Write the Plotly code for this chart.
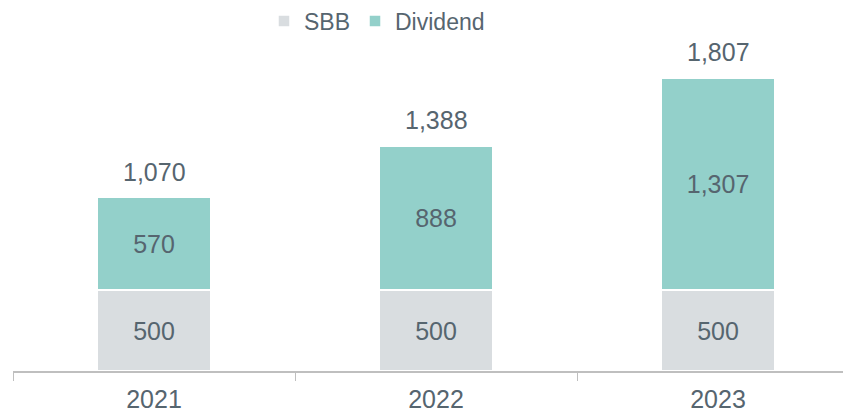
import plotly.graph_objects as go

years = ["2021", "2022", "2023"]
sbb = [500, 500, 500]
dividend = [570, 888, 1307]
totals = [1070, 1388, 1807]

TXT = "#56656f"
FONT = "Liberation Sans, Arial, sans-serif"

fig = go.Figure()
fig.add_trace(go.Bar(
    name="SBB", x=years, y=sbb, width=0.4,
    marker=dict(color="#d9dde0", line=dict(color="white", width=1.5)),
    text=[f"{v:,}" for v in sbb], textposition="inside", insidetextanchor="middle",
    textangle=0, textfont=dict(size=25, color=TXT, family=FONT),
))
fig.add_trace(go.Bar(
    name="Dividend", x=years, y=dividend, width=0.4,
    marker=dict(color="#93d0ca", line=dict(color="white", width=1.5)),
    text=[f"{v:,}" for v in dividend], textposition="inside", insidetextanchor="middle",
    textangle=0, textfont=dict(size=25, color=TXT, family=FONT),
))
for i, t in enumerate(totals):
    fig.add_annotation(x=i, y=t, text=f"{t:,}", showarrow=False,
                       yanchor="middle", yshift=26,
                       font=dict(size=25, color=TXT, family=FONT))

# page body has an 8px margin, so the figure is 8px smaller and shifted
fig.update_layout(
    width=843, height=405,
    margin=dict(l=5, r=0, t=39, b=42, autoexpand=False),
    barmode="stack",
    plot_bgcolor="white", paper_bgcolor="white",
    font=dict(family=FONT, color=TXT),
    uniformtext=dict(minsize=25, mode="show"),
    showlegend=True,
    legend=dict(orientation="h", x=0.2995, xanchor="left", y=1.08, yanchor="middle",
                font=dict(size=23, color=TXT, family=FONT),
                itemwidth=30, traceorder="normal"),
    xaxis=dict(type="category", range=[-0.5, 2.4716], showline=True, automargin=False,
               linecolor="#bfbfbf", linewidth=1.5, ticks="outside", tickson="boundaries",
               ticklen=8, tickcolor="#bfbfbf", tickwidth=1, ticklabelstandoff=5,
               tickfont=dict(size=25, color=TXT, family=FONT), showgrid=False),
    yaxis=dict(range=[0, 2000], visible=False, showgrid=False),
)

fig.write_html("out.html")
